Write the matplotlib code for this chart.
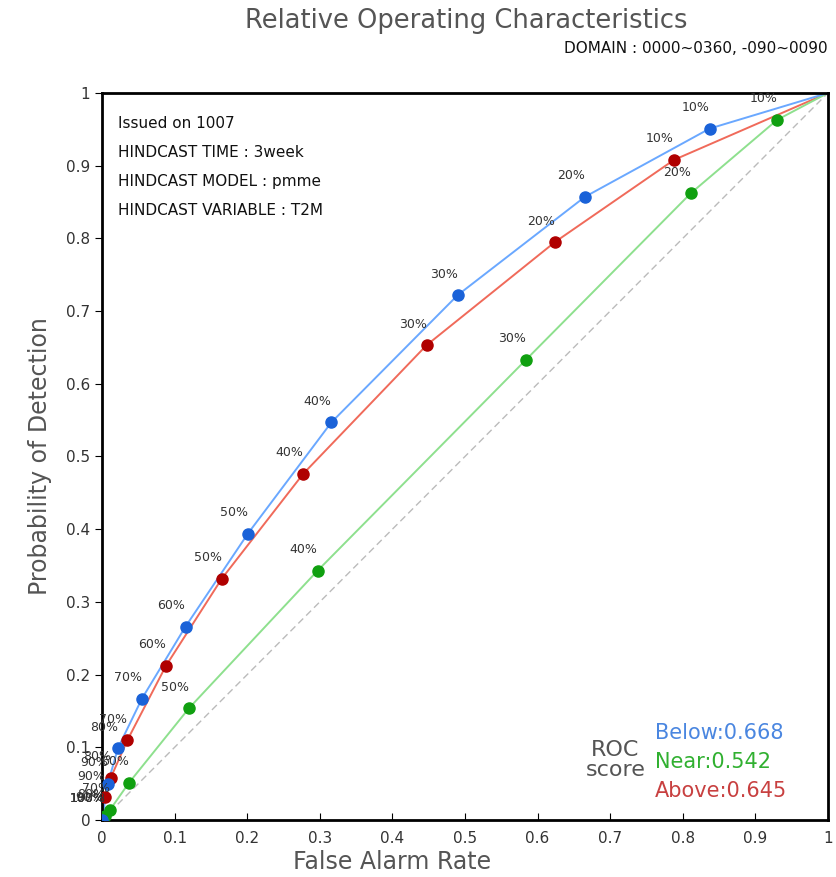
import matplotlib.pyplot as plt
import numpy as np

# probability thresholds (100% .. 10%), curves run from (0,0) to (1,1)
probs = ['100%', '90%', '80%', '70%', '60%', '50%', '40%', '30%', '20%', '10%']

below_far = [0.0, 0.008, 0.022, 0.055, 0.115, 0.201, 0.316, 0.490, 0.665, 0.837]
below_pod = [0.0, 0.050, 0.099, 0.167, 0.266, 0.394, 0.547, 0.722, 0.857, 0.951]

near_far = [0.0, 0.001, 0.004, 0.011, 0.037, 0.120, 0.297, 0.584, 0.811, 0.930]
near_pod = [0.0, 0.002, 0.006, 0.014, 0.051, 0.154, 0.343, 0.633, 0.862, 0.963]

above_far = [0.0, 0.004, 0.012, 0.035, 0.088, 0.165, 0.277, 0.447, 0.624, 0.788]
above_pod = [0.0, 0.031, 0.058, 0.110, 0.212, 0.332, 0.476, 0.653, 0.795, 0.908]

scores = {'Below': 0.668, 'Near': 0.542, 'Above': 0.645}

ticks = np.arange(0, 1.01, 0.1)
tick_labels = ['0', '0.1', '0.2', '0.3', '0.4', '0.5', '0.6', '0.7', '0.8', '0.9', '1']

info = ['Issued on 1007', 'HINDCAST TIME : 3week',
        'HINDCAST MODEL : pmme', 'HINDCAST VARIABLE : T2M']

txt = '#333333'
lab = '#555555'

fig = plt.figure(figsize=(8.37, 8.77), dpi=100)
ax = fig.add_axes([0.1219, 0.065, 0.8673, 0.829])

# no-skill line
ax.plot([0, 1], [0, 1], color='#bbbbbb', ls=(0, (5, 3)), lw=1, zorder=1)

series = [
    (above_far, above_pod, '#f06a5a', '#b00000'),
    (near_far, near_pod, '#8ee08e', '#10a010'),
    (below_far, below_pod, '#6aa8ff', '#1a62d8'),
]
for far, pod, lc, mc in series:
    x = list(far) + [1.0]
    y = list(pod) + [1.0]
    ax.plot(x, y, color=lc, lw=1.4, zorder=2)
    ax.plot(far, pod, 'o', color=mc, ms=8, zorder=3)
    for p, xi, yi in zip(probs, far, pod):
        ax.annotate(p, (xi, yi), xytext=(-14, 21), textcoords='offset pixels',
                    ha='center', va='center', fontsize=9, color=txt, zorder=4)

ax.set_xlim(0, 1)
ax.set_ylim(0, 1)
ax.set_xticks(ticks)
ax.set_xticklabels(tick_labels)
ax.set_yticks(ticks)
ax.set_yticklabels(tick_labels)
ax.tick_params(axis='x', direction='in', length=5, labelsize=11, labelcolor=txt, pad=8)
ax.tick_params(axis='y', direction='out', length=5, labelsize=11, labelcolor=txt)
for s in ax.spines.values():
    s.set_linewidth(2)

ax.set_xlabel('False Alarm Rate', fontsize=17, color=lab, labelpad=3, x=0.4)
ax.set_ylabel('Probability of Detection', fontsize=17, color=lab, labelpad=10)

fig.text(0.557, 0.976, 'Relative Operating Characteristics', ha='center', va='center',
         fontsize=18.5, color=lab)
fig.text(0.989, 0.945, 'DOMAIN : 0000~0360, -090~0090', ha='right', va='center',
         fontsize=11, color='#111111')

for i, line in enumerate(info):
    ax.text(0.022, 0.958 - i * 0.04, line, transform=ax.transAxes, fontsize=11,
            color='#111111', va='center')

ax.text(0.707, 0.083, 'ROC\nscore', transform=ax.transAxes, ha='center', va='center',
        fontsize=16, color=lab, linespacing=1.0)
colors = {'Below': '#4a86e0', 'Near': '#30b030', 'Above': '#c84040'}
for i, (k, v) in enumerate(scores.items()):
    ax.text(0.762, 0.12 - i * 0.04, '%s:%.3f' % (k, v), transform=ax.transAxes,
            fontsize=15, color=colors[k], va='center')

plt.savefig('out.png')
